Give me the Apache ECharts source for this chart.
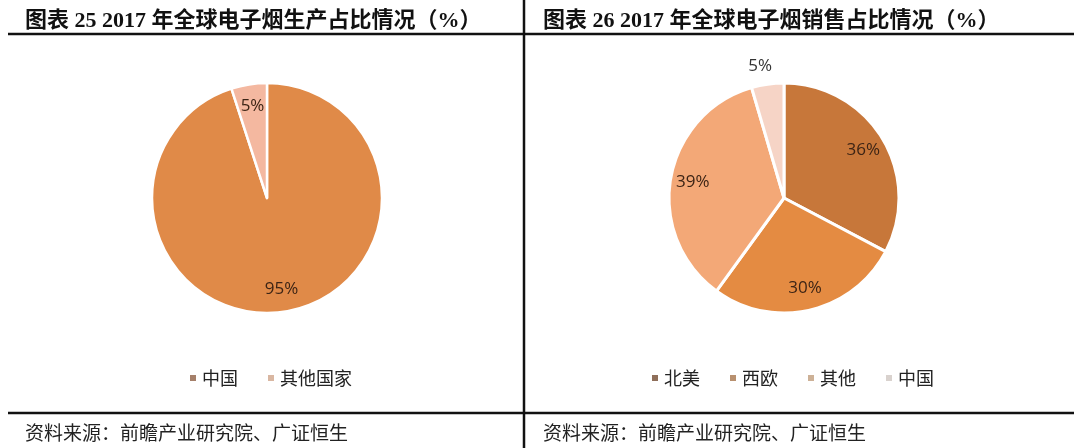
<!DOCTYPE html>
<head>
    <meta charset="utf-8">
    <title>ECharts</title>
    <script src="https://cdn.jsdelivr.net/npm/echarts@6/dist/echarts.min.js"></script>
</head>
<body style="margin:0;background:#fff">
    <div id="main" style="width:1080px;height:448px"></div>
    <script type="text/javascript">
        // 图表25 生产占比
        var prodNames = ['中国', '其他国家'];
        var prodValues = [95, 5];
        var prodColors = ['#E08A48', '#F4B8A0'];
        var prodLegendColors = ['#A5806A', '#D9B7A2'];

        // 图表26 销售占比
        var saleNames = ['北美', '西欧', '其他', '中国'];
        var saleValues = [36, 30, 39, 5];
        var saleColors = ['#C7773A', '#E48B42', '#F3A877', '#F6D4C6'];
        var saleLegendColors = ['#8F6F5A', '#B8906F', '#CDB197', '#D9D2CE'];

        var titles = ['图表 25 2017 年全球电子烟生产占比情况（%）', '图表 26 2017 年全球电子烟销售占比情况（%）'];
        var source = '资料来源：前瞻产业研究院、广证恒生';

        var myChart = echarts.init(document.getElementById('main'));

        function pieData(names, values, colors) {
            return names.map(function (n, i) {
                return {name: n, value: values[i], itemStyle: {color: colors[i]}};
            });
        }
        function labelData(names, values, outsideIdx) {
            return names.map(function (n, i) {
                var d = {name: n, value: values[i]};
                if (i === outsideIdx) {
                    d.label = {position: 'outside', color: '#333'};
                }
                return d;
            });
        }
        function legendData(names, colors) {
            return names.map(function (n, i) {
                return {name: n, itemStyle: {color: colors[i]}};
            });
        }

        var labelStyle = {
            show: true,
            position: 'inside',
            formatter: '{c}%',
            fontFamily: 'Open Sans',
            fontSize: 17,
            color: '#3c2415'
        };

        var option = {
            animation: false,
            title: [
                {text: titles[0], left: 20, top: 5,
                 textStyle: {fontFamily: 'Liberation Serif, Noto Sans CJK SC', fontWeight: 'bold', fontSize: 22, color: '#111'}},
                {text: titles[1], left: 538, top: 5,
                 textStyle: {fontFamily: 'Liberation Serif, Noto Sans CJK SC', fontWeight: 'bold', fontSize: 22, color: '#111'}},
                {text: source, left: 20, top: 418,
                 textStyle: {fontFamily: 'Noto Sans CJK SC', fontWeight: 'normal', fontSize: 19, color: '#222'}},
                {text: source, left: 538, top: 418,
                 textStyle: {fontFamily: 'Noto Sans CJK SC', fontWeight: 'normal', fontSize: 19, color: '#222'}}
            ],
            legend: [
                {data: legendData(prodNames, prodLegendColors), left: 183, top: 364,
                 icon: 'rect', itemWidth: 8, itemHeight: 8, itemGap: 28,
                 textStyle: {fontFamily: 'Noto Sans CJK SC', fontSize: 18, color: '#222'}},
                {data: legendData(saleNames, saleLegendColors), left: 645, top: 364,
                 icon: 'rect', itemWidth: 8, itemHeight: 8, itemGap: 28,
                 textStyle: {fontFamily: 'Noto Sans CJK SC', fontSize: 18, color: '#222'}}
            ],
            graphic: [
                {type: 'line', shape: {x1: 8, y1: 34, x2: 1074, y2: 34}, style: {stroke: '#111', lineWidth: 2.5}},
                {type: 'line', shape: {x1: 8, y1: 413, x2: 1074, y2: 413}, style: {stroke: '#111', lineWidth: 2.5}},
                {type: 'line', shape: {x1: 524, y1: 0, x2: 524, y2: 448}, style: {stroke: '#111', lineWidth: 2.5}}
            ],
            series: [
                {
                    name: '生产', type: 'pie', center: [267, 198], radius: [0, 115],
                    startAngle: 90, clockwise: true, silent: true,
                    itemStyle: {borderColor: '#fff', borderWidth: 2.5},
                    label: {show: false}, labelLine: {show: false},
                    data: pieData(prodNames, prodValues, prodColors)
                },
                {
                    name: '销售', type: 'pie', center: [784, 198], radius: [0, 115],
                    startAngle: 90, clockwise: true, silent: true,
                    itemStyle: {borderColor: '#fff', borderWidth: 3},
                    label: {show: false}, labelLine: {show: false},
                    data: pieData(saleNames, saleValues, saleColors)
                },
                {
                    name: '生产标签', type: 'pie', center: [267, 198], radius: [64, 115],
                    startAngle: 90, clockwise: true, silent: true,
                    itemStyle: {color: 'rgba(0,0,0,0)'},
                    label: labelStyle, labelLine: {show: false},
                    data: labelData(prodNames, prodValues, -1)
                },
                {
                    name: '销售标签', type: 'pie', center: [784, 198], radius: [64, 115],
                    startAngle: 90, clockwise: true, silent: true,
                    itemStyle: {color: 'rgba(0,0,0,0)'},
                    label: labelStyle,
                    labelLine: {show: false, length: 18, length2: 0},
                    labelLayout: function (p) {
                        return p.dataIndex === 3 ? {align: 'center', verticalAlign: 'middle'} : {};
                    },
                    data: labelData(saleNames, saleValues, 3)
                }
            ]
        };

        myChart.setOption(option);
    </script>
</body>
